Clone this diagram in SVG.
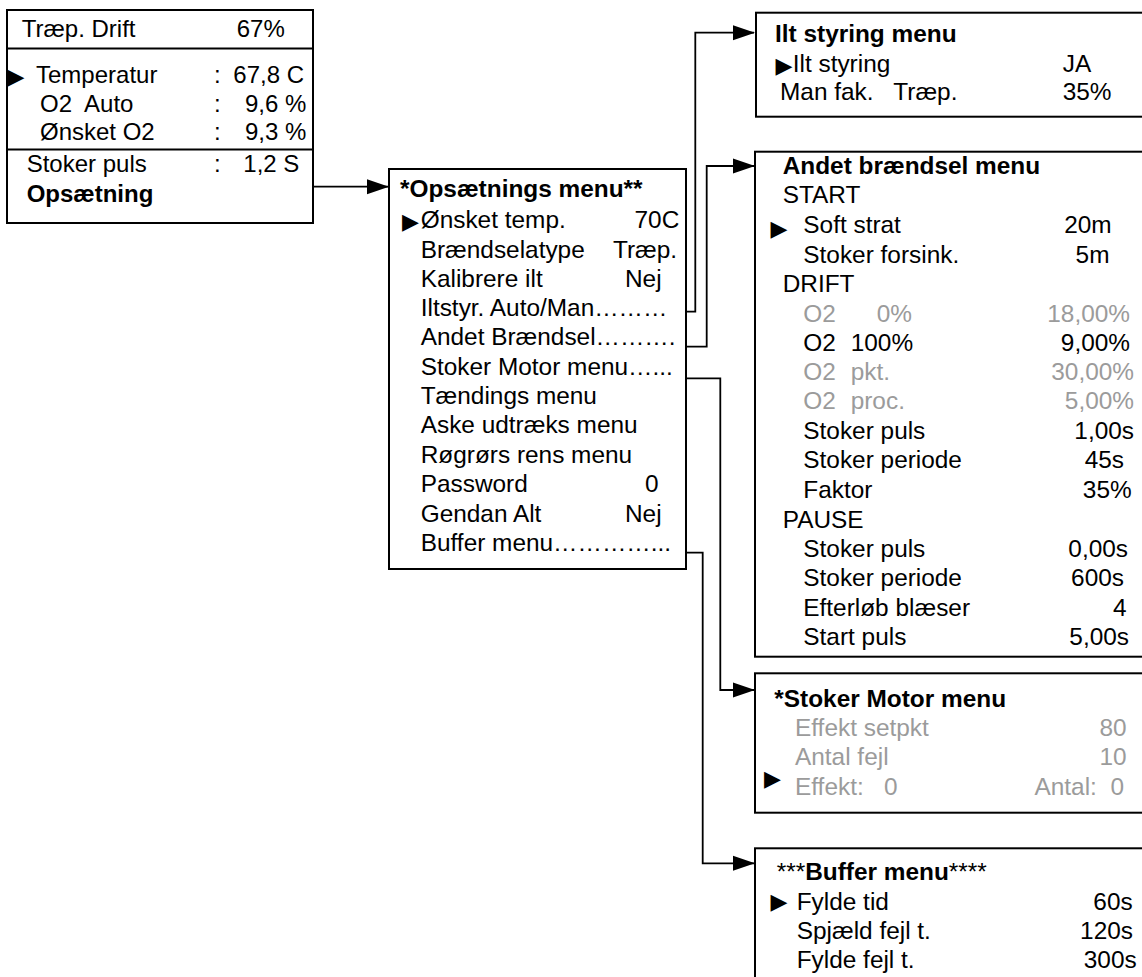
<svg xmlns="http://www.w3.org/2000/svg" width="1142" height="977" viewBox="0 0 1142 977">
<defs>
<marker id="arr" markerUnits="userSpaceOnUse" markerWidth="22" markerHeight="16" refX="21" refY="7.5" orient="auto" overflow="visible">
<path d="M0,0 L22,7.5 L0,15 z" fill="#000"/>
</marker>
<style>
text{font-family:"Liberation Sans",Arial,Helvetica,sans-serif;font-size:24.4px;fill:#000;white-space:pre}
#status text{font-size:24px}
.b{font-weight:bold}
.g{fill:#9b9b9b}
.e{text-anchor:end}
#status text.tri,text.tri{font-family:"DejaVu Sans",sans-serif;font-size:22px}
.box{fill:#fff;stroke:#000;stroke-width:2}
.div{stroke:#000;stroke-width:2}
.con{fill:none;stroke:#000;stroke-width:1.8}
</style>
</defs>
<rect width="1142" height="977" fill="#fff"/>

<g id="status">
<rect class="box" x="7" y="10" width="306" height="213"/>
<line class="div" x1="7" y1="48.5" x2="313" y2="48.5"/>
<line class="div" x1="7" y1="149.5" x2="313" y2="149.5"/>
<text x="21.7" y="37.3">Træp. Drift</text>
<text x="236.7" y="37.3">67%</text>
<text class="tri" x="7.5" y="84">▶</text>
<text x="36" y="83.3">Temperatur</text>
<text x="214" y="83.3">:</text>
<text x="233.3" y="83.3">67,8 C</text>
<text x="40" y="111.7">O2  Auto</text>
<text x="214" y="111.7">:</text>
<text x="245" y="111.7">9,6 %</text>
<text x="40" y="140">Ønsket O2</text>
<text x="214" y="140">:</text>
<text x="245" y="140">9,3 %</text>
<text x="26.7" y="171.7">Stoker puls</text>
<text x="214" y="171.7">:</text>
<text x="243.3" y="171.7">1,2 S</text>
<text class="b" x="26.7" y="201.7">Opsætning</text>
</g>

<g id="opsaetning">
<rect class="box" x="389" y="169" width="297" height="400"/>
<text class="b" x="400" y="197">*Opsætnings menu**</text>
<text class="tri" x="402" y="229.3">▶</text>
<text x="420.7" y="228.3">Ønsket temp.</text>
<text class="e" x="679.3" y="228.3">70C</text>
<text x="420.7" y="257.5">Brændselatype</text>
<text x="613" y="257.5">Træp.</text>
<text x="420.7" y="286.8">Kalibrere ilt</text>
<text x="625" y="286.8">Nej</text>
<text x="420.7" y="316">Iltstyr. Auto/Man………</text>
<text x="420.7" y="345.3">Andet Brændsel……….</text>
<text x="420.7" y="374.5">Stoker Motor menu…...</text>
<text x="420.7" y="403.8">Tændings menu</text>
<text x="420.7" y="433.2">Aske udtræks menu</text>
<text x="420.7" y="462.5">Røgrørs rens menu</text>
<text x="420.7" y="492">Password</text>
<text x="645" y="492">0</text>
<text x="420.7" y="521.5">Gendan Alt</text>
<text x="625" y="521.5">Nej</text>
<text x="420.7" y="551">Buffer menu…………...</text>
</g>

<g id="ilt">
<rect class="box" x="756" y="12.7" width="400" height="104"/>
<text class="b" x="775" y="42.3">Ilt styring menu</text>
<text class="tri" x="775.5" y="72.5">▶</text>
<text x="792.7" y="71.7">Ilt styring</text>
<text x="1062.7" y="71.7">JA</text>
<text x="780" y="100">Man fak.</text>
<text x="893.3" y="100">Træp.</text>
<text x="1062.7" y="100">35%</text>
</g>

<g id="andet">
<rect class="box" x="755" y="151.7" width="400" height="505"/>
<text class="b" x="782.7" y="174.3">Andet brændsel menu</text>
<text x="782.7" y="203.3">START</text>
<text class="tri" x="770.5" y="236">▶</text>
<text x="803.3" y="233.3">Soft strat</text>
<text class="e" x="1111.7" y="233.3">20m</text>
<text x="803.3" y="262.7">Stoker forsink.</text>
<text class="e" x="1109.5" y="262.7">5m</text>
<text x="782.7" y="291.7">DRIFT</text>
<text class="g" x="803.3" y="321.7">O2</text>
<text class="g" x="876.7" y="321.7">0%</text>
<text class="g e" x="1130" y="321.7">18,00%</text>
<text x="803.3" y="350.7">O2</text>
<text x="850.7" y="350.7">100%</text>
<text class="e" x="1130" y="350.7">9,00%</text>
<text class="g" x="803.3" y="380">O2</text>
<text class="g" x="850.7" y="380">pkt.</text>
<text class="g e" x="1134" y="380">30,00%</text>
<text class="g" x="803.3" y="409">O2</text>
<text class="g" x="850.7" y="409">proc.</text>
<text class="g e" x="1134" y="409">5,00%</text>
<text x="803.3" y="439.3">Stoker puls</text>
<text class="e" x="1134" y="439.3">1,00s</text>
<text x="803.3" y="468.3">Stoker periode</text>
<text class="e" x="1124" y="468.3">45s</text>
<text x="803.3" y="497.7">Faktor</text>
<text class="e" x="1131.7" y="497.7">35%</text>
<text x="782.7" y="527.7">PAUSE</text>
<text x="803.3" y="556.7">Stoker puls</text>
<text class="e" x="1128" y="556.7">0,00s</text>
<text x="803.3" y="585.7">Stoker periode</text>
<text class="e" x="1124" y="585.7">600s</text>
<text x="803.3" y="616">Efterløb blæser</text>
<text class="e" x="1126.7" y="616">4</text>
<text x="803.3" y="645">Start puls</text>
<text class="e" x="1129" y="645">5,00s</text>
</g>

<g id="stoker">
<rect class="box" x="755" y="673.3" width="400" height="139.4"/>
<text class="b" x="774.3" y="706.7">*Stoker Motor menu</text>
<text class="g" x="795" y="736">Effekt setpkt</text>
<text class="g e" x="1126.7" y="736">80</text>
<text class="g" x="795" y="765">Antal fejl</text>
<text class="g e" x="1126.7" y="765">10</text>
<text class="tri" x="764" y="786">▶</text>
<text class="g" x="795" y="795">Effekt:</text>
<text class="g" x="884" y="795">0</text>
<text class="g e" x="1124" y="795">Antal:  0</text>
</g>

<g id="buffer">
<rect class="box" x="755" y="848.3" width="400" height="140"/>
<text x="776.7" y="880">***<tspan class="b">Buffer menu</tspan>****</text>
<text class="tri" x="770.5" y="909.3">▶</text>
<text x="796.7" y="910">Fylde tid</text>
<text class="e" x="1132.7" y="910">60s</text>
<text x="796.7" y="939.3">Spjæld fejl t.</text>
<text class="e" x="1133" y="939.3">120s</text>
<text x="796.7" y="968.3">Fylde fejl t.</text>
<text class="e" x="1136.7" y="968.3">300s</text>
</g>

<g id="connectors">
<path class="con" d="M313,186.7 H388" marker-end="url(#arr)"/>
<path class="con" d="M686,311.7 H695.3 V32.7 H754" marker-end="url(#arr)"/>
<path class="con" d="M686,346.7 H706.7 V166 H754" marker-end="url(#arr)"/>
<path class="con" d="M686,378.3 H720.3 V690 H754" marker-end="url(#arr)"/>
<path class="con" d="M686,552.7 H702.7 V863.3 H754" marker-end="url(#arr)"/>
</g>
</svg>
